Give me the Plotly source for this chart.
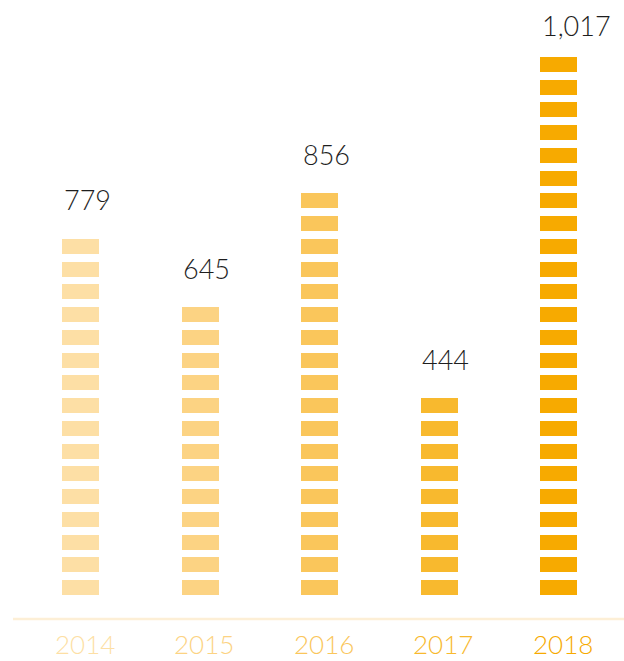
import plotly.graph_objects as go

years = ["2014", "2015", "2016", "2017", "2018"]
values = [779, 645, 856, 444, 1017]
value_labels = ["779", "645", "856", "444", "1,017"]
segments = [16, 13, 18, 9, 24]
colors = ["#FDDFA5", "#FCD383", "#FAC65B", "#F8B92E", "#F7AA00"]

SEG_H = 15 / 22.75
W, H = 624, 661
PITCH = 22.75
BASE_PX = 595
Y0 = -(H - BASE_PX) / PITCH
Y1 = Y0 + H / PITCH
SPACING = 119.5
X0 = -80.5 / SPACING
X1 = (W - 80.5) / SPACING
BAR_W = 37 / SPACING

FONT = "Lato"

fig = go.Figure()
for i, (yr, n, c) in enumerate(zip(years, segments, colors)):
    fig.add_trace(go.Bar(
        x=[i] * n,
        base=list(range(n)),
        y=[SEG_H] * n,
        width=BAR_W,
        marker=dict(color=c, line=dict(width=0)),
        hoverinfo="skip",
        showlegend=False,
        name=yr,
    ))

for i, (yr, n, lab, c) in enumerate(zip(years, segments, value_labels, colors)):
    top_val = n - 1 + SEG_H
    top_px = BASE_PX - top_val * PITCH
    shift = min(39, top_px - 25)
    fig.add_annotation(
        x=i, y=top_val, text=lab, showarrow=False,
        xanchor="left", yanchor="middle", xshift=-19, yshift=shift,
        font=dict(family=FONT, size=27, color="#1E1E1E", weight=300),
    )
    fig.add_annotation(
        x=i, y=Y0 + (H - 644) / PITCH, text=yr, showarrow=False,
        xanchor="center", yanchor="middle", xshift=4, borderpad=0,
        font=dict(family=FONT, size=26, color=c, weight=300),
    )

fig.add_shape(
    type="line", xref="paper", yref="y",
    x0=13 / W, x1=1, y0=-(619 - BASE_PX) / PITCH, y1=-(619 - BASE_PX) / PITCH,
    line=dict(color="#FDEFD6", width=2.5),
)

fig.update_layout(
    width=W, height=H, autosize=False,
    margin=dict(l=0, r=0, t=0, b=0),
    paper_bgcolor="white", plot_bgcolor="white",
    barmode="overlay", bargap=0,
    xaxis=dict(range=[X0, X1], visible=False),
    yaxis=dict(range=[Y0, Y1], visible=False),
)

fig.write_html("out.html", config={"displayModeBar": False},
               post_script="document.body.style.margin='0';")
